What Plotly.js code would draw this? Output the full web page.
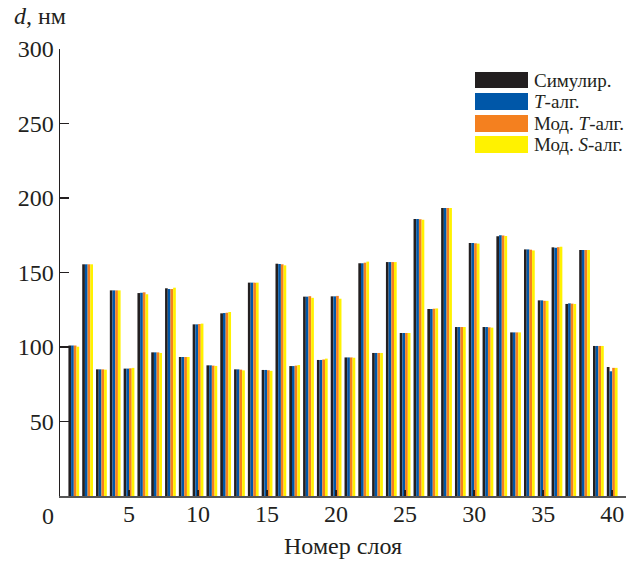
<!DOCTYPE html>
<html>
<head>
<meta charset="utf-8">
<script src="https://cdn.plot.ly/plotly-3.0.1.min.js"></script>
<style>html,body{margin:0;padding:0;background:#fff}#chart{width:642px;height:562px}</style>
</head>
<body>
<div id="chart"></div>
<script>
// Data
const layers = Array.from({length: 40}, (_, i) => i + 1);
const seriesNames = ['Симулир.', '<i>T</i>-алг.', 'Мод. <i>T</i>-алг.', 'Мод. <i>S</i>-алг.'];
const seriesColors = ['#231f20', '#0057a8', '#f4801f', '#fff200'];
const simul = [101, 155.5, 85, 138, 85.5, 136.2, 96.4, 139.4, 93.3, 115.2,
               87.7, 122.6, 85, 143.2, 84.6, 155.9, 87.2, 133.8, 91.3, 134,
               93, 156.2, 96, 157, 109.4, 185.9, 125.5, 193.3, 113.4, 169.8,
               113.4, 174.3, 109.8, 165.5, 131.3, 166.9, 128.9, 165.1, 100.7, 86.6];
const tAlg = [101, 155.5, 85, 138, 85.5, 136.4, 96.4, 138.9, 93.3, 115.2,
              87.7, 122.8, 85, 143.2, 84.6, 155.7, 87.2, 133.8, 91.3, 134,
              93, 156.2, 96, 157, 109.4, 185.9, 125.5, 193.3, 113.4, 169.8,
              113.4, 175, 109.8, 165.5, 131.3, 166.6, 129.3, 165.1, 100.7, 83.7];
const modT = [101, 155.5, 85, 138, 85.7, 136.7, 96.4, 138.9, 93.3, 115.4,
              87.5, 123, 84.8, 143.2, 84.4, 155.5, 87.5, 134.1, 91.6, 134.3,
              93, 156.6, 96, 157, 109.4, 185.7, 125.7, 193.3, 113.4, 169.6,
              113.2, 174.8, 109.8, 165.3, 131, 167, 129.1, 165.1, 100.7, 86];
const modS = [100.2, 155.5, 84.8, 138, 86, 135.4, 96, 139.8, 93.3, 115.7,
              87.3, 123.5, 84.3, 143.2, 84, 154.8, 87.9, 133, 92.2, 132.4,
              92.8, 157.3, 96, 157, 109.4, 185.4, 125.9, 193.3, 113.4, 169.4,
              113, 174.5, 109.8, 164.8, 131, 167.3, 128.9, 165.1, 100.7, 86];
const xTicks = [5, 10, 15, 20, 25, 30, 35, 40];
const yTicks = [50, 100, 150, 200, 250, 300];

const allSeries = [simul, tAlg, modT, modS];
const traces = allSeries.map((vals, i) => ({
  type: 'bar', x: layers, y: vals, name: seriesNames[i],
  marker: {color: seriesColors[i], line: {width: 0}}, showlegend: false
}));

const font = {family: '"Liberation Serif", "Times New Roman", serif', color: '#231f20'};
const L = 60, T = 49, W = 566, H = 447;
const px = x => (x - L) / W;
const py = y => (T + H - y) / H;

// Legend (drawn as shapes + text, large swatches)
const rows = [[72, 88], [93, 110], [115, 132], [136, 153]];
const shapes = [], annotations = [];
rows.forEach((r, i) => {
  shapes.push({type: 'rect', xref: 'paper', yref: 'paper', x0: px(475), x1: px(528),
    y0: py(r[1]), y1: py(r[0]), fillcolor: seriesColors[i], line: {width: 0}});
  annotations.push({xref: 'paper', yref: 'paper', x: px(533), y: py((r[0] + r[1]) / 2),
    xanchor: 'left', yanchor: 'middle', showarrow: false, text: seriesNames[i],
    font: Object.assign({size: 19}, font), borderpad: 0});
});
annotations.push({xref: 'paper', yref: 'paper', x: px(12), y: py(16), xanchor: 'left', yanchor: 'middle',
  showarrow: false, text: '<i>d</i>, нм', font: Object.assign({size: 24}, font)});
annotations.push({xref: 'paper', yref: 'paper', x: px(47.5), y: py(516), xanchor: 'center', yanchor: 'middle',
  showarrow: false, text: '0', font: Object.assign({size: 24}, font)});

const layout = {
  width: 642, height: 562,
  margin: {l: L, r: 642 - L - W, t: T, b: 562 - T - H, pad: 0},
  paper_bgcolor: '#fff', plot_bgcolor: '#fff',
  barmode: 'group', bargap: 0.22, bargroupgap: 0,
  font: font,
  xaxis: {
    range: [0, 41], tickvals: xTicks, ticks: 'inside', ticklen: 6, tickwidth: 2, tickcolor: '#231f20',
    showline: true, linewidth: 2, linecolor: '#555', showgrid: false, zeroline: false,
    tickfont: Object.assign({size: 24}, font), ticklabelstandoff: -5,
    title: {text: 'Номер слоя', font: Object.assign({size: 24}, font), standoff: 11}
  },
  yaxis: {
    range: [0, 300], tickvals: yTicks, ticks: 'inside', ticklen: 9, tickwidth: 1.5, tickcolor: '#231f20',
    showline: true, linewidth: 1.5, linecolor: '#231f20', showgrid: false, zeroline: false,
    tickfont: Object.assign({size: 24}, font)
  },
  shapes: shapes, annotations: annotations
};

Plotly.newPlot('chart', traces, layout, {displayModeBar: false, staticPlot: true});
</script>
</body>
</html>
